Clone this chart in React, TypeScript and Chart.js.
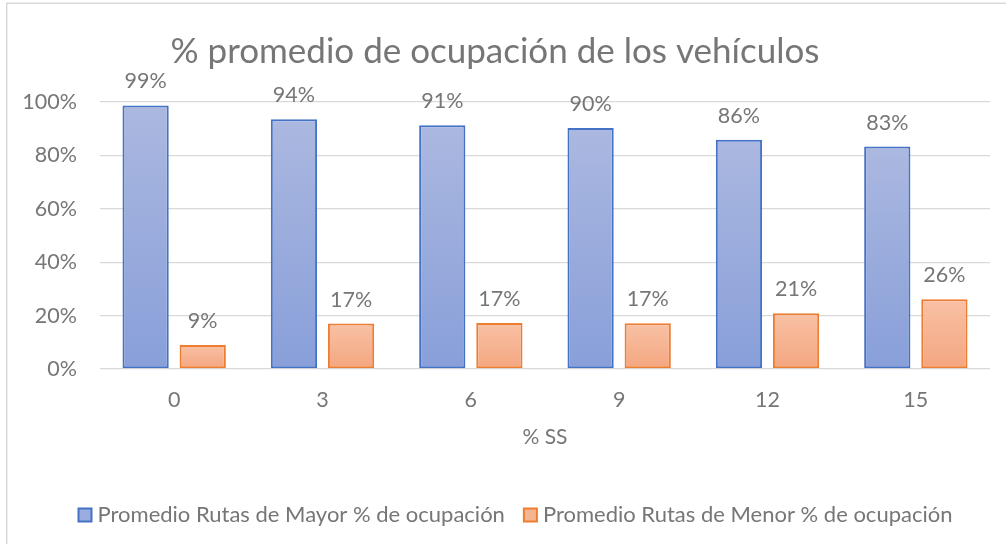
import React, { useEffect, useRef } from "react";
import { Chart, registerables } from "chart.js";

Chart.register(...registerables);

const categories = ["0", "3", "6", "9", "12", "15"];
const mayorValues = [98.7, 93.5, 91.3, 90.3, 85.9, 83.3];
const menorValues = [9.0, 17.0, 17.2, 17.1, 20.9, 26.1];
const mayorLabels = ["99%", "94%", "91%", "90%", "86%", "83%"];
const menorLabels = ["9%", "17%", "17%", "17%", "21%", "26%"];
const yTicks = [0, 20, 40, 60, 80, 100];
const seriesNames = [
  "Promedio Rutas de Mayor % de ocupación",
  "Promedio Rutas de Menor % de ocupación",
];

const FONT = "Lato, 'Open Sans', sans-serif";
const TEXT = "#767676";
const FILL = ["#9aace0", "#f6b592"];
const EDGE = ["#4472c4", "#ed7d31"];

function barGradient(ctx: any, top: string, bottom: string, fallback: string) {
  const chart = ctx.chart;
  const y = chart.scales && chart.scales.y;
  if (!y || ctx.type !== "data" || !chart.chartArea) return fallback;
  const v = ctx.raw as number;
  const yTop = y.getPixelForValue(v);
  const yBot = y.getPixelForValue(0);
  if (!isFinite(yTop) || !isFinite(yBot) || yTop === yBot) return fallback;
  const g = chart.ctx.createLinearGradient(0, yTop, 0, yBot);
  g.addColorStop(0, top);
  g.addColorStop(1, bottom);
  return g;
}

const frame = {
  id: "frame",
  beforeDraw(chart: any) {
    const c = chart.ctx;
    c.save();
    c.fillStyle = "#ffffff";
    c.fillRect(0, 0, chart.width, chart.height);
    c.strokeStyle = "#d9d9d9";
    c.lineWidth = 1.5;
    c.strokeRect(6.75, 3.25, chart.width + 20, chart.height + 20);
    c.restore();
  },
};

const valueLabels = {
  id: "valueLabels",
  afterDatasetsDraw(chart: any) {
    const c = chart.ctx;
    const sets = [mayorLabels, menorLabels];
    c.save();
    c.font = `21.5px ${FONT}`;
    c.fillStyle = TEXT;
    c.textAlign = "center";
    c.textBaseline = "middle";
    chart.data.datasets.forEach((_: any, di: number) => {
      const meta = chart.getDatasetMeta(di);
      meta.data.forEach((el: any, i: number) => {
        c.fillText(sets[di][i], el.x, el.y - 24);
      });
    });
    c.restore();
  },
};

const bottomLegend = {
  id: "bottomLegend",
  afterDraw(chart: any) {
    const c = chart.ctx;
    c.save();
    c.font = `22px ${FONT}`;
    c.textBaseline = "middle";
    c.textAlign = "left";
    const cy = 515;
    const box = 13;
    let x = 78.5;
    seriesNames.forEach((name, i) => {
      c.fillStyle = FILL[i];
      c.fillRect(x, cy - box / 2, box, box);
      c.strokeStyle = EDGE[i];
      c.lineWidth = 2;
      c.strokeRect(x, cy - box / 2, box, box);
      const tx = x + box + 6;
      c.fillStyle = TEXT;
      c.fillText(name, tx, cy);
      x = tx + c.measureText(name).width + 19;
    });
    c.restore();
  },
};

export default function App() {
  const ref = useRef<HTMLCanvasElement | null>(null);
  useEffect(() => {
    document.body.style.margin = "0";
    if (!ref.current) return;
    const chart = new Chart(ref.current, {
      type: "bar",
      data: {
        labels: categories,
        datasets: [
          {
            label: seriesNames[0],
            data: mayorValues,
            backgroundColor: (ctx: any) => barGradient(ctx, "#abb8e0", "#889fd9", FILL[0]),
            borderColor: EDGE[0],
            borderWidth: 2,
            borderSkipped: false,
            categoryPercentage: 0.77,
            barPercentage: 0.81,
          },
          {
            label: seriesNames[1],
            data: menorValues,
            backgroundColor: (ctx: any) => barGradient(ctx, "#f8c1a5", "#f4a67f", FILL[1]),
            borderColor: EDGE[1],
            borderWidth: 2,
            borderSkipped: false,
            categoryPercentage: 0.77,
            barPercentage: 0.81,
          },
        ],
      },
      options: {
        responsive: false,
        animation: false,
        layout: { padding: { left: 0, right: 16, top: 0, bottom: 50 } },
        plugins: {
          title: {
            display: true,
            text: "% promedio de ocupación de los vehículos",
            color: TEXT,
            font: { family: FONT, size: 35, weight: "normal" },
            padding: { top: 31, bottom: 29 },
          },
          legend: { display: false },
          tooltip: { enabled: false },
        },
        scales: {
          x: {
            grid: { display: false },
            border: { display: false },
            ticks: { color: TEXT, font: { family: FONT, size: 21.5 }, padding: 10 },
            title: {
              display: true,
              text: "% SS",
              color: TEXT,
              font: { family: FONT, size: 21 },
              padding: { top: 0, bottom: 44 },
            },
            afterFit: (s: any) => {
              s.height = 125;
            },
          },
          y: {
            min: 0,
            max: 100,
            afterBuildTicks: (s: any) => {
              s.ticks = yTicks.map((v) => ({ value: v }));
            },
            grid: { color: "#d9d9d9", lineWidth: 1.3, drawTicks: false },
            border: { display: false },
            ticks: {
              color: TEXT,
              font: { family: FONT, size: 21.5 },
              padding: 23,
              callback: (v: any) => `${v}%`,
            },
            afterFit: (s: any) => {
              s.width = 100;
            },
          },
        },
      },
      plugins: [frame, valueLabels, bottomLegend],
    });
    return () => chart.destroy();
  }, []);
  return (
    <div style={{ width: 1006, height: 544 }}>
      <canvas ref={ref} width={1006} height={544} />
    </div>
  );
}
